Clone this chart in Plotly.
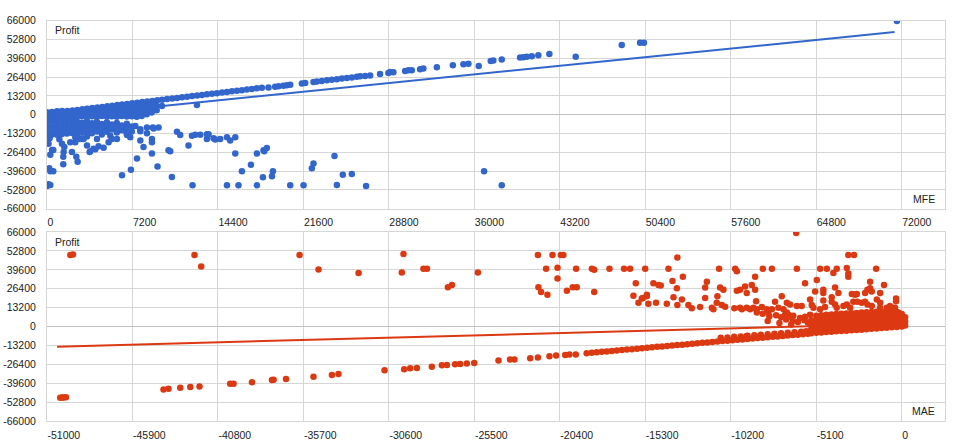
import plotly.graph_objects as go

# ---------------- DATA ----------------
# Top chart: MFE (x) vs Profit (y)
top_band = [
    (60, 1000), (450, 1300), (880, 1700), (1300, 2150), (1720, 2500), (2150, 2950), (2560, 3350),
    (2980, 3800), (3400, 4200), (3820, 4600), (4250, 5050), (4660, 5450), (5080, 5900), (5500, 6300),
    (5930, 6700), (6340, 7150), (6760, 7550), (7180, 8000), (7600, 8400), (8030, 8800), (8450, 9250),
    (8870, 9650), (9290, 10100), (9700, 10500), (10120, 10900), (10550, 11350), (10960, 11750),
    (11380, 12200), (11800, 12600), (12220, 13000), (12650, 13450), (13060, 13850), (13480, 14300),
    (13900, 14700), (14320, 15100), (14740, 15550), (15160, 15950), (15580, 16400), (16000, 16800),
    (16420, 17200), (16840, 17650), (17260, 18050), (17680, 18500), (18100, 18900),
    (18660, 19100), (19220, 19500), (19500, 19900), (19920, 20300), (20210, 20600), (20490, 20900),
    (21470, 21900), (21750, 22200), (22450, 22900), (22730, 23300), (23150, 23700), (23580, 24100),
    (24000, 24500), (24420, 24900), (24840, 25300), (25260, 25700), (25680, 26100), (26100, 26600),
    (26380, 26900), (26800, 27200), (27220, 27500), (28060, 28600), (28760, 29200), (28910, 29900),
    (29180, 29800), (30170, 30700), (30450, 31100), (30730, 31200), (31430, 31900), (31710, 32300),
    (32840, 33300), (34190, 34600), (35080, 35300), (35500, 35800), (36370, 34100), (37380, 37600),
    (37600, 38000), (38310, 38700), (39850, 40100), (40130, 40300), (40420, 40600), (40840, 41000),
    (41390, 41700), (42320, 42600), (44540, 40600), (48420, 48800), (49960, 50500), (50290, 50500),
    (71600, 65800), (12630, 6800), (9680, 6100),
]
top_core = [
    (0, 1600), (0, -1700), (0, -5000), (0, -8300), (0, -11600), (0, -14300),
    (420, 1900), (420, -1300), (420, -4600), (420, -7900), (420, -11200), (420, -13900),
    (840, 2300), (840, -1000), (840, -4300), (840, -7600), (840, -10900), (840, -14100),
    (1260, 2600), (1260, -700), (1260, -4000), (1260, -7300), (1260, -10600), (1260, -13600),
    (1680, -400), (1680, -3700), (1680, -7000), (1680, -10300), (1680, -13200),
    (2100, -100), (2100, -3400), (2100, -6700), (2100, -10000), (2100, -12800),
    (210, -3300), (630, -2900), (1050, -6200), (1470, -9000), (1890, -5200), (630, -9500),
    (210, -12500), (1050, -12300), (1890, -11500),
    (2520, -1400), (2520, 1900), (2940, -1200), (2940, 2100), (3360, -1300), (3360, 1800), (3360, 3900),
    (3780, -1100), (3780, 2200), (4200, -1400), (4200, 1900), (4200, 4300), (4620, -1000), (4620, 2300),
    (5040, -1300), (5040, 1900), (5040, 4800), (5460, -1100), (5460, 2200), (5460, 4100),
    (5880, -1400), (5880, 1800), (5880, 5000), (6300, -1000), (6300, 2300), (6300, 5300),
    (6720, -1300), (6720, 1900), (6720, 4700), (7140, -1100), (7140, 2200), (7140, 5400),
    (7560, -1400), (7560, 1800), (7560, 4900), (7980, -900), (7980, 2300), (7980, 5500),
    (8400, 200), (8400, 3500), (8400, 6200), (8820, 1500), (8820, 4600), (8820, 7100),
    (9240, 3000), (9240, 6100),
    (2520, -4800), (2520, -8200), (2520, -11400), (2520, -14600), (2940, -5600), (2940, -9300),
    (2940, -12700), (3360, -4700), (3360, -8000), (3360, -11600), (3360, -15300), (3780, -6100),
    (3780, -9600), (3780, -13000), (4200, -5000), (4200, -8400), (4200, -11800), (4620, -6500),
    (4620, -10000), (4620, -13900), (5040, -5300), (5040, -8800), (5040, -12000), (5460, -7000),
    (5460, -10400), (5880, -5800), (5880, -9200), (5880, -12600), (6300, -7600), (6300, -11000),
    (6720, -6300), (6720, -9800), (6720, -13300), (7140, -8300), (7140, -11900), (7440, -7900),
    (7860, -10200), (8420, -9100), (8920, -9100), (9400, -9100), (8980, -9800), (7860, -11600),
    (8420, -13000),
]
top_losses = [
    (220, -16600), (130, -20500), (280, -28200), (420, -24800), (530, -24800), (190, -37600),
    (280, -39800), (530, -39800), (130, -48900), (280, -49400), (0, -50100),
    (1040, -17300), (1260, -20500), (1460, -22700), (1370, -29600), (1370, -34800), (2100, -26200),
    (2470, -29600), (2580, -33000), (2380, -19300), (2800, -17100), (3370, -21600), (3590, -26200),
    (3920, -23900), (4340, -22100), (4770, -23200), (4210, -17100), (5330, -14800), (5890, -17100),
    (6320, -42600), (7070, -38700), (7580, -30700), (7860, -18200), (8130, -22700), (8840, -17100),
    (8840, -27300), (9310, -36400), (10240, -24900), (10520, -43700), (10950, -12000), (11220, -14300),
    (11920, -21600), (12210, -14800), (12260, -49600), (12490, -14100), (12910, -14100), (13470, -13700),
    (13470, -17100), (13610, -13700), (14030, -16600), (14170, -17500), (14590, -17100), (15160, -49600),
    (15160, -15900), (15430, -18200), (15860, -15900), (15860, -27300), (16130, -49600), (16420, -39800),
    (17180, -35200), (17680, -27300), (17680, -49600), (18240, -25000), (18300, -25700), (18520, -23400),
    (18190, -43900), (18950, -43200), (19030, -39800), (20490, -49600), (21610, -49600), (22310, -37600),
    (22450, -34200), (24220, -29100), (24420, -49400), (24920, -42100), (25680, -41700), (26880, -50100),
    (36820, -39800), (38310, -49600),
    (3650, -25700), (4070, -24300), (5190, -19300), (5470, -17100), (6740, -14300), (7010, -15900),
    (8840, -19300), (10380, -25700), (3080, -17100), (2380, -15900), (1960, -19300), (1400, -26200),
]
top_trend_mfe = [0, 71400]
top_trend_profit = [-2100, 58000]

# Bottom chart: MAE (x) vs Profit (y)
bottom_band = [
    (-50210, -49700), (-50100, -49400), (-50010, -49500), (-49870, -49200), (-44050, -43800),
    (-43750, -43300), (-43050, -42600), (-42450, -42200), (-41900, -41800), (-40070, -39900),
    (-39870, -39900), (-38770, -38800), (-37580, -37200), (-37480, -37000), (-36740, -36500),
    (-35100, -35000), (-34000, -33800), (-33610, -33100), (-30860, -30400), (-29690, -29700),
    (-29330, -29100), (-28930, -28900), (-28040, -28000), (-27440, -27000), (-27140, -26800),
    (-26650, -26300), (-26350, -26100), (-25950, -25700), (-25510, -25300), (-24060, -23600),
    (-23370, -22900), (-23110, -22900), (-22170, -22100), (-21710, -21600), (-21020, -20700),
    (-20620, -20200), (-20080, -19800), (-19830, -19400), (-19450, -19400),
    (-18800, -18500), (-18500, -18200), (-18200, -17900), (-17900, -17600), (-17600, -17300),
    (-17300, -17000), (-17000, -16700), (-16700, -16300), (-16400, -16000), (-16100, -15700),
    (-15800, -15400), (-15500, -15000), (-15200, -14700), (-14900, -14400), (-14600, -14100),
    (-14300, -13800), (-14000, -13500), (-13700, -13200), (-13400, -12900), (-13100, -12600),
    (-12800, -12300), (-12500, -12000), (-12200, -11600), (-11900, -11300), (-11600, -11000),
    (-11300, -10700), (-11000, -10400), (-10700, -10100), (-10400, -9800), (-10100, -9500),
    (-9800, -9200), (-9500, -8900), (-9200, -8600), (-8900, -8300), (-8600, -8000), (-8300, -7700),
    (-8000, -7400), (-7700, -7100), (-7400, -6800), (-7100, -6500), (-6800, -6200), (-6500, -5900),
    (-6200, -5600), (-5900, -5300), (-5600, -5000),
    (-10800, -7800), (-10400, -7500), (-10000, -7100), (-9600, -6800), (-9200, -6400), (-8800, -6000),
    (-8400, -5700), (-8000, -5300), (-7600, -5000), (-7200, -4600), (-6800, -4300), (-6400, -3900),
    (-6000, -3600), (-5700, -3300), (-9250, -6450), (-8750, -6450),
]
bottom_core = [
    (-5400, -4600), (-5400, -2000), (-5400, 1200), (-5400, 4400),
    (-5100, -4300), (-5100, -1700), (-5100, 1500), (-5100, 4700), (-5100, 7600),
    (-4800, -4100), (-4800, -1500), (-4800, 1700), (-4800, 4900), (-4800, 8000),
    (-4500, -3800), (-4500, -1200), (-4500, 2000), (-4500, 5200), (-4500, 8300),
    (-4200, -3600), (-4200, -1000), (-4200, 2200), (-4200, 5400), (-4200, 8500),
    (-3900, -3300), (-3900, -700), (-3900, 2500), (-3900, 5700), (-3900, 8800),
    (-3600, -3100), (-3600, -500), (-3600, 2700), (-3600, 5900), (-3600, 9000),
    (-3300, -2800), (-3300, -200), (-3300, 3000), (-3300, 6200), (-3300, 9200),
    (-3000, -2600), (-3000, 0), (-3000, 3200), (-3000, 6400), (-3000, 9400),
    (-2700, -2300), (-2700, 300), (-2700, 3500), (-2700, 6700), (-2700, 9600),
    (-2400, -2100), (-2400, 500), (-2400, 3700), (-2400, 6900), (-2400, 9800),
    (-2100, -1800), (-2100, 800), (-2100, 4000), (-2100, 7200), (-2100, 10000),
    (-1800, -1500), (-1800, 1000), (-1800, 4200), (-1800, 7400), (-1800, 10200),
    (-1500, -1300), (-1500, 1300), (-1500, 4500), (-1500, 7700), (-1500, 10400),
    (-1200, -1000), (-1200, 1500), (-1200, 4700), (-1200, 7900), (-1200, 10500),
    (-900, -800), (-900, 1800), (-900, 5000), (-900, 8200), (-900, 10600),
    (-600, -500), (-600, 2000), (-600, 5200), (-600, 8400), (-600, 10500),
    (-300, -200), (-300, 2300), (-300, 5500), (-300, 8700), (-300, 10200),
    (0, 100), (0, 2500), (0, 5700), (0, 8800), (200, 800), (200, 3500), (200, 6500),
    (-8300, 9000), (-7900, 7200), (-7500, 8000), (-7200, 6500), (-6900, 4900), (-6500, 4000),
    (-6200, 3300), (-5800, 4500), (-5600, 2800), (-6600, 1500), (-7300, 2500), (-8000, 4000),
]
bottom_gains = [
    (-49610, 49900), (-49450, 50400), (-42200, 49900), (-41800, 42000), (-35930, 49900), (-34800, 39900),
    (-32410, 37500), (-29730, 50600), (-29830, 37700), (-28540, 40400), (-28330, 40400), (-27080, 27500),
    (-26840, 29100), (-25290, 37700), (-21710, 49900), (-20840, 49900), (-20340, 49900), (-20190, 49900),
    (-21220, 40400), (-20540, 41100), (-20540, 33600), (-21680, 27500), (-21520, 24100), (-21140, 22300),
    (-19980, 25000), (-19630, 27500), (-19390, 27500), (-19430, 40400), (-18490, 40400), (-18350, 39700),
    (-18350, 24100), (-17440, 40400), (-16570, 40400), (-16210, 40400), (-15870, 30200), (-16010, 21600),
    (-15710, 16600), (-15450, 20000), (-15210, 22300),
    (-15310, 40400), (-13390, 48300), (-13920, 40400), (-13060, 34800), (-14820, 30200), (-14520, 29100),
    (-14380, 28700), (-13680, 31800), (-13420, 26800), (-15210, 21200), (-15510, 19600), (-13620, 20500),
    (-13120, 18900), (-15120, 16000), (-14660, 16600), (-14020, 16000), (-13390, 15100), (-12730, 15100),
    (-12530, 12800), (-12030, 13700), (-11730, 27300), (-11630, 31400), (-11730, 20000), (-11330, 13200),
    (-11240, 12100), (-11000, 21200), (-10900, 40400), (-10840, 27300), (-10640, 25700), (-10740, 15100),
    (-10540, 13900), (-11040, 16600), (-9940, 40400), (-9840, 38600), (-9990, 12800), (-9650, 13200),
    (-9540, 12100), (-9840, 25000), (-9650, 25700), (-9350, 28000), (-9250, 23400), (-9250, 13200),
    (-9050, 12100), (-8850, 13200), (-8650, 12100), (-8950, 29100), (-8750, 34800), (-8750, 25700),
    (-8690, 17800), (-8650, 9800), (-8290, 40400), (-8350, 13700), (-8050, 12100), (-7960, 9800),
    (-7750, 40400), (-7560, 17300), (-7750, 12100), (-7160, 21200), (-7360, 13200), (-7060, 12100),
    (-6860, 9800), (-6760, 8300),
    (-6300, 65300), (-3190, 49900), (-2850, 49900), (-6260, 40400), (-4870, 40400), (-4470, 40400),
    (-3880, 40400), (-3280, 40900), (-4080, 37500), (-3190, 37000), (-3190, 34800), (-1530, 40400),
    (-5770, 30200), (-5070, 32500), (-3980, 27300), (-1890, 31400), (-1060, 29100), (-5170, 24600),
    (-4680, 25700), (-4680, 23400), (-4180, 20500), (-3780, 23400), (-2980, 22700), (-2790, 22300),
    (-2680, 22700), (-2190, 23400), (-2050, 25700), (-1890, 26800), (-1790, 24600), (-1290, 23400),
    (-340, 19600), (-340, 17800), (-6860, 16600), (-6660, 15500), (-6260, 14400), (-5970, 14400),
    (-5470, 18900), (-5370, 15100), (-5270, 13200), (-4680, 18200), (-4870, 12100), (-4580, 13700),
    (-4180, 17300), (-3980, 15500), (-3880, 13200), (-3480, 14400), (-3280, 15500), (-3080, 13200),
    (-2890, 17300), (-2650, 17300), (-2390, 16600), (-2190, 17300), (-2050, 15500), (-1790, 14400),
    (-1490, 18900), (-1290, 16600), (-1290, 13200), (-890, 13200), (-700, 14400), (-400, 13200),
    (-200, 9800), (-6960, 8300), (-6760, 6900), (-6470, 7600), (-6070, 6000), (-5770, 6900), (-5470, 8300),
]
bottom_trend_mae = [-50400, 0]
bottom_trend_profit = [-14000, 2000]

top_x_ticks = [0, 7200, 14400, 21600, 28800, 36000, 43200, 50400, 57600, 64800, 72000]
bottom_x_ticks = [-51000, -45900, -40800, -35700, -30600, -25500, -20400, -15300, -10200, -5100, 0]
y_ticks = [66000, 52800, 39600, 26400, 13200, 0, -13200, -26400, -39600, -52800, -66000]

BLUE = "#3366cc"
RED = "#dc3912"
FONT = "Liberation Sans, Arial, sans-serif"
TXT = "#222222"
GRID = "#d6d6d6"

top_pts = top_band + top_core + top_losses
bot_pts = bottom_band + bottom_core + bottom_gains

fig = go.Figure()
fig.add_trace(go.Scatter(
    x=[p[0] for p in top_pts], y=[p[1] for p in top_pts], mode="markers",
    marker=dict(color=BLUE, size=6.5, line=dict(width=0)), xaxis="x", yaxis="y", showlegend=False))
fig.add_trace(go.Scatter(
    x=top_trend_mfe, y=top_trend_profit, mode="lines", line=dict(color=BLUE, width=2),
    xaxis="x", yaxis="y", showlegend=False))
fig.add_trace(go.Scatter(
    x=[p[0] for p in bot_pts], y=[p[1] for p in bot_pts], mode="markers",
    marker=dict(color=RED, size=6.5, line=dict(width=0)), xaxis="x2", yaxis="y2", showlegend=False))
fig.add_trace(go.Scatter(
    x=bottom_trend_mae, y=bottom_trend_profit, mode="lines", line=dict(color=RED, width=2),
    xaxis="x2", yaxis="y2", showlegend=False))

W, H = 960, 446
xdom = [47 / W, 945 / W]


def xax(ticks, rng, anchor):
    return dict(
        domain=xdom, range=rng, anchor=anchor, tickmode="array", tickvals=ticks,
        ticktext=[str(t) for t in ticks], showgrid=True, gridcolor=GRID, gridwidth=1,
        zeroline=False,
        showline=True, linecolor=GRID, mirror=True, ticks="",
        ticklabelposition="outside right", ticklabelstandoff=4,
        tickfont=dict(family=FONT, size=10.5, color=TXT),
    )


def yax(dom, anchor):
    return dict(
        domain=dom, range=[-66000, 66000], anchor=anchor, tickmode="array", tickvals=y_ticks,
        ticktext=[str(t) for t in y_ticks], showgrid=True, gridcolor=GRID, gridwidth=1,
        zeroline=True, zerolinecolor="#c2c2c2", zerolinewidth=1,
        showline=True, linecolor=GRID, mirror=True, ticks="", ticklabelstandoff=8,
        tickfont=dict(family=FONT, size=10.5, color=TXT),
    )


fig.update_layout(
    width=W, height=H, autosize=False,
    margin=dict(l=0, r=0, t=0, b=0),
    paper_bgcolor="white", plot_bgcolor="white",
    xaxis=xax(top_x_ticks, [0, 75650], "y"),
    yaxis=yax([1 - 208.3 / H, 1 - 15 / H], "x"),
    xaxis2=xax(bottom_x_ticks, [-51000, 2580], "y2"),
    yaxis2=yax([1 - 426.7 / H, 1 - 232.3 / H], "x2"),
    font=dict(family=FONT, size=10.5, color=TXT),
)


def label(text, x, y, anchor):
    fig.add_annotation(text=text, xref="paper", yref="paper", x=x / W, y=1 - y / H,
                       xanchor=anchor, yanchor="middle", showarrow=False,
                       font=dict(family=FONT, size=10.5, color=TXT))


label("Profit", 53, 25, "left")
label("MFE", 937, 198, "right")
label("Profit", 53, 243, "left")
label("MAE", 937, 416, "right")

fig.write_html("out.html")
